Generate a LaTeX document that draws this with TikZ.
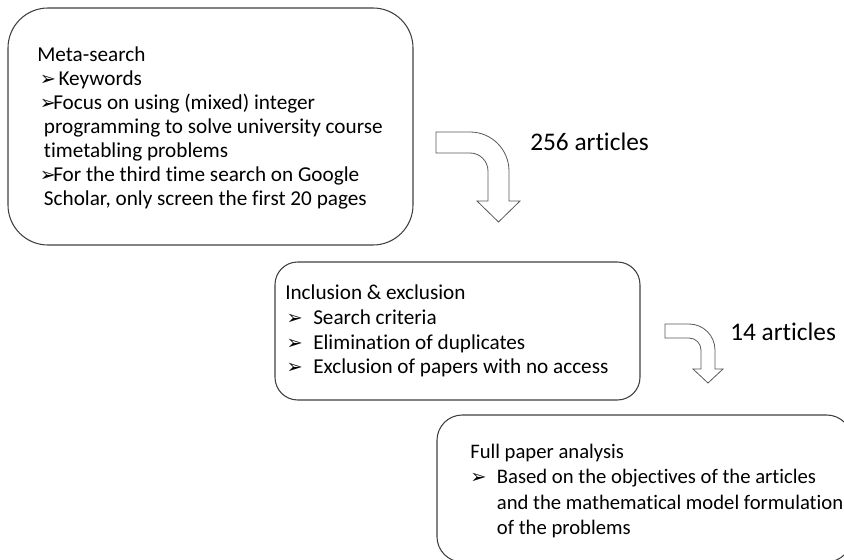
\documentclass[tikz,border=0pt]{standalone}
\usepackage{fontspec}
\setmainfont{Carlito}[Ligatures=NoCommon]
\newfontfamily\dingfont{DejaVu Sans}
\usetikzlibrary{positioning}

\newcommand{\bul}{{\dingfont\fontsize{14.5}{14.5}\selectfont ➢}}

\tikzset{
  box/.style={draw=black!75, line width=0.8pt, fill=white},
  bodytext/.style={align=left, inner sep=0pt, anchor=west, font=\fontsize{15.9}{17.9}\selectfont},
  blockarrow/.style={draw=black!65, line width=0.6pt, fill=white, line join=miter},
  lbl/.style={inner sep=0pt, anchor=west, font=\fontsize{19}{23}\selectfont}
}

\begin{document}
\begin{tikzpicture}[x=0.75pt, y=-0.75pt]
                \useasboundingbox (0,0) rectangle (844,560);
                \clip (0,0) rectangle (844,560);

                % boxes
                \node[box, minimum width=303.75pt, minimum height=177.75pt, rounded corners=30pt] (metasearch) at (210.5,126.5) {};
                \node[box, minimum width=273.75pt, minimum height=103.5pt, rounded corners=17pt] (inclusion) at (457.5,331) {};
                \node[box, minimum width=311.25pt, minimum height=110.25pt, rounded corners=19pt] (fullpaper) at (644.5,488.5) {};

                % box texts
                \node[bodytext] (metatext) at (37,128) {Meta-search\\
                    \hspace*{2pt}\makebox[14pt][l]{\bul}Keywords\\
                    \hspace*{2pt}\makebox[10pt][l]{\bul}Focus on using (mixed) integer\\
                    \hspace*{5pt}programming to solve university course\\
                    \hspace*{5pt}timetabling problems\\
                    \hspace*{2pt}\makebox[10pt][l]{\bul}For the third time search on Google\\
                    \hspace*{5pt}Scholar, only screen the first 20 pages};
                \node[bodytext, font=\fontsize{15.9}{18.6}\selectfont] (inclusiontext) at (285,331) {Inclusion \& exclusion\\
                    \hspace*{1pt}\makebox[20pt][l]{\bul}Search criteria\\
                    \hspace*{1pt}\makebox[20pt][l]{\bul}Elimination of duplicates\\
                    \hspace*{1pt}\makebox[20pt][l]{\bul}Exclusion of papers with no access};
                \node[bodytext, font=\fontsize{15.5}{18.8}\selectfont] (fulltext) at (470,491) {Full paper analysis\\
                    \makebox[20pt][l]{\bul}Based on the objectives of the articles\\
                    \hspace*{20pt}and the mathematical model formulation\\
                    \hspace*{20pt}of the problems};

                % bent arrows
                \draw[blockarrow] (436,132) -- (470,132) arc(-90:0:39) -- (509,201) -- (520,201) -- (498.5,222)
                    -- (477,201) -- (488,201) -- (488,171) arc(0:-90:18) -- (436,153) -- cycle;
                \draw[blockarrow] (665,324) -- (689,324) arc(-90:0:26) -- (715,369) -- (723,369) -- (708,383)
                    -- (693,369) -- (701,369) -- (701,350) arc(0:-90:12) -- (665,338) -- cycle;

                % counts
                \node[lbl] (count1) at (530,142) {256 articles};
                \node[lbl] (count2) at (730,332) {14 articles};
            \end{tikzpicture}
\end{document}
